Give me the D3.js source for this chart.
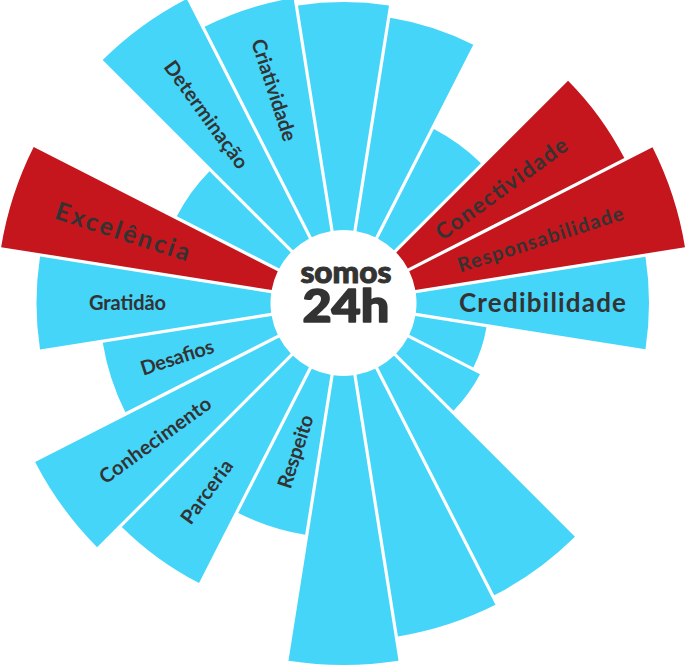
<!DOCTYPE html>
<html>
<head>
<meta charset="utf-8">
<script src="https://cdn.jsdelivr.net/npm/d3@7"></script>
<style>
  html, body { margin: 0; padding: 0; background: #fff; }
  svg { display: block; }
</style>
</head>
<body>
<svg id="chart" width="685" height="665"></svg>
<script>
// ---- data (clockwise from 12 o'clock) ----
const categories = [
  "s1", "s2", "s3", "Conectividade", "Responsabilidade", "Credibilidade",
  "s7", "s8", "s9", "s10", "s11", "Respeito", "Parceria", "Conhecimento",
  "Desafios", "Gratidão", "Excelência", "s18", "Determinação", "Criatividade"
];
const values = [
  76, 72, 41, 81, 91, 77.5, 24, 27, 85.3, 88.3,
  96.3, 54, 80.7, 91.3, 57, 78, 91.3, 38.3, 89.7, 78.7
];
const highlighted = ["Conectividade", "Responsabilidade", "Excelência"];
const centerTitle = ["somos", "24h"];

// ---- layout / style ----
const W = 685, H = 665;
const cx = 343.5, cy = 303;
const innerR = 73;
const blue = "#44D5F9", red = "#C4161C", ink = "#333333";
const labelFont = "Lato, sans-serif";
const labelStyle = {
  "Conectividade":    { r: 195, size: 22, len: 157 },
  "Responsabilidade": { r: 207, size: 20, len: 173 },
  "Credibilidade":    { r: 199, size: 26, len: 167 },
  "Respeito":         { r: 156, size: 20, len: 76 },
  "Parceria":         { r: 233, size: 20, len: 74 },
  "Conhecimento":     { r: 233, size: 20, len: 133 },
  "Desafios":         { r: 175, size: 20, len: 76 },
  "Gratidão":         { r: 216, size: 20, len: 77 },
  "Excelência":       { r: 232, size: 25, len: 140 },
  "Determinação":     { r: 233, size: 20, len: 128 },
  "Criatividade":     { r: 224, size: 20, len: 106 }
};

const svg = d3.select("#chart");
const g = svg.append("g").attr("transform", `translate(${cx},${cy})`);

const step = 2 * Math.PI / categories.length;
const angle = d3.scaleBand()
  .domain(categories)
  .range([-step / 2, 2 * Math.PI - step / 2])
  .paddingInner(0).paddingOuter(0);

const radius = d3.scaleLinear().domain([0, 100]).range([innerR, 373]);

const arc = d3.arc()
  .innerRadius(innerR)
  .outerRadius(d => radius(d.value))
  .startAngle(d => angle(d.cat))
  .endAngle(d => angle(d.cat) + angle.bandwidth())
  .padAngle(0.032)
  .padRadius(100);

const data = categories.map((c, i) => ({ cat: c, value: values[i] }));

g.selectAll("path.bar")
  .data(data)
  .join("path")
  .attr("class", "bar")
  .attr("d", arc)
  .attr("fill", d => highlighted.includes(d.cat) ? red : blue);

// labels
const labeled = data.filter(d => labelStyle[d.cat]);
g.selectAll("text.lab")
  .data(labeled)
  .join("text")
  .attr("class", "lab")
  .attr("transform", d => {
    const a = angle(d.cat) + angle.bandwidth() / 2;
    const deg = a * 180 / Math.PI;
    const r = labelStyle[d.cat].r;
    const x = r * Math.sin(a), y = -r * Math.cos(a);
    const rot = deg < 180 ? deg - 90 : deg + 90;
    return `translate(${x},${y}) rotate(${rot})`;
  })
  .attr("text-anchor", "middle")
  .attr("dy", "0.36em")
  .attr("font-family", labelFont)
  .attr("font-weight", 700)
  .attr("font-size", d => labelStyle[d.cat].size)
  .attr("textLength", d => labelStyle[d.cat].len)
  .attr("lengthAdjust", "spacing")
  .attr("fill", ink)
  .text(d => d.cat);

// center title (one text element, two lines)
const title = g.append("text")
  .attr("text-anchor", "middle")
  .attr("font-family", "Lato, sans-serif")
  .attr("font-weight", 900)
  .attr("fill", ink)
  .attr("stroke", ink)
  .attr("stroke-linejoin", "round");
title.append("tspan")
  .attr("x", 2.4).attr("y", -19.7)
  .attr("font-size", 30)
  .attr("stroke-width", 1)
  .attr("textLength", 91).attr("lengthAdjust", "spacingAndGlyphs")
  .text(centerTitle[0]);
title.append("tspan")
  .attr("x", 2.4).attr("y", 18.7)
  .attr("font-size", 46)
  .attr("stroke-width", 1.6)
  .attr("textLength", 87).attr("lengthAdjust", "spacingAndGlyphs")
  .text(centerTitle[1]);
</script>
</body>
</html>
